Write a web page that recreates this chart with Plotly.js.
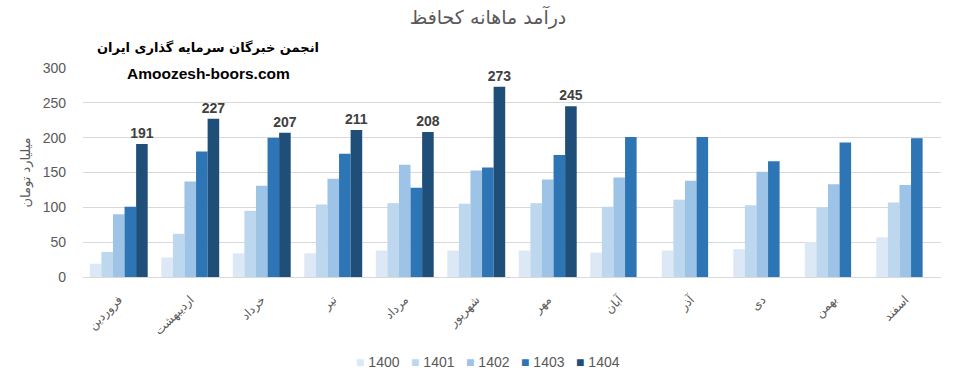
<!DOCTYPE html>
<html>
<head>
<meta charset="utf-8">
<script src="https://cdn.plot.ly/plotly-3.0.1.min.js"></script>
<style>html,body{margin:0;padding:0;background:#fff;}#chart{width:976px;height:383px;}</style>
</head>
<body>
<div id="chart"></div>
<script>
const months = ["فروردین","اردیبهشت","خرداد","تیر","مرداد","شهریور","مهر","آبان","آذر","دی","بهمن","اسفند"];
const years = ["1400","1401","1402","1403","1404"];
const v1400 = [19, 28, 34, 34, 38, 38, 38, 35, 38, 40, 50, 57];
const v1401 = [36, 62, 95, 104, 106, 105, 106, 101, 111, 103, 100, 107];
const v1402 = [90, 137, 131, 141, 161, 153, 140, 143, 138, 151, 133, 132];
const v1403 = [101, 180, 200, 177, 128, 157, 175, 201, 201, 166, 193, 199];
const v1404 = [191, 227, 207, 211, 208, 273, 245, null, null, null, null, null];
const colors = ["#dde8f6", "#bdd7ee", "#9dc3e6", "#2e75b6", "#1f4e79"];
const series = [v1400, v1401, v1402, v1403, v1404];

const traces = series.map((vals, i) => {
  const t = {
    type: "bar",
    name: years[i],
    x: months,
    y: vals,
    marker: {color: colors[i]},
    showlegend: false,
    hoverinfo: "x+y+name"
  };
  if (i === 4) {
    t.text = vals.map(v => v === null ? "" : String(v));
    t.textposition = "outside";
    t.constraintext = "none";
    t.cliponaxis = false;
    t.textfont = {family: "Liberation Sans, Arial, sans-serif", size: 14, color: "#404040", weight: "bold"};
  }
  return t;
});

// legend built as text entries (one per series)
const legendAnn = years.map((y, i) => ({
  text: '<span style="color:' + colors[i] + '">■</span> ' + y,
  xref: "paper", yref: "paper",
  x: 0.3444 + i * 0.0641, y: -0.4067,
  xanchor: "center", yanchor: "middle",
  showarrow: false,
  font: {family: "Liberation Sans, sans-serif", size: 14, color: "#595959"}
}));

const layout = {
  width: 976,
  height: 383,
  margin: {l: 83, r: 35, t: 68, b: 106, autoexpand: false},
  paper_bgcolor: "#ffffff",
  plot_bgcolor: "#ffffff",
  barmode: "group",
  bargap: 0.19,
  bargroupgap: 0,
  showlegend: false,
  font: {family: "Liberation Sans, DejaVu Sans, sans-serif", color: "#595959"},
  title: {
    text: "درآمد ماهانه کحافظ",
    x: 0.5, xanchor: "center",
    y: 0.955, yanchor: "middle",
    font: {family: "DejaVu Sans, sans-serif", size: 19, color: "#595959"}
  },
  xaxis: {
    type: "category",
    tickangle: -45,
    tickfont: {family: "DejaVu Sans, sans-serif", size: 12, color: "#595959"},
    showgrid: false,
    showline: true,
    linecolor: "#d9d9d9",
    ticks: "",
    ticklabelstandoff: 10,
    automargin: false
  },
  yaxis: {
    range: [0, 300],
    dtick: 50,
    tickfont: {family: "Liberation Sans, sans-serif", size: 14, color: "#595959"},
    gridcolor: "#d9d9d9",
    gridwidth: 1,
    zeroline: false,
    showline: false,
    ticks: "",
    ticklen: 0,
    ticklabelstandoff: 16,
    title: {
      text: "میلیارد تومان",
      standoff: 9,
      font: {family: "DejaVu Sans, sans-serif", size: 13, color: "#595959"}
    },
    automargin: false
  },
  annotations: [
    {
      text: "<b>انجمن خبرگان سرمایه گذاری ایران</b>",
      xref: "paper", yref: "paper",
      x: 0.146, y: 1.096, xanchor: "center", yanchor: "middle",
      showarrow: false,
      font: {family: "DejaVu Sans, sans-serif", size: 13, color: "#000000"}
    },
    {
      text: "<b>Amoozesh-boors.com</b>",
      xref: "paper", yref: "paper",
      x: 0.146, y: 0.976, xanchor: "center", yanchor: "middle",
      showarrow: false,
      font: {family: "Liberation Sans, Arial, sans-serif", size: 15.5, color: "#000000"}
    }
  ].concat(legendAnn)
};

Plotly.newPlot("chart", traces, layout, {displayModeBar: false, staticPlot: true});
</script>
</body>
</html>
